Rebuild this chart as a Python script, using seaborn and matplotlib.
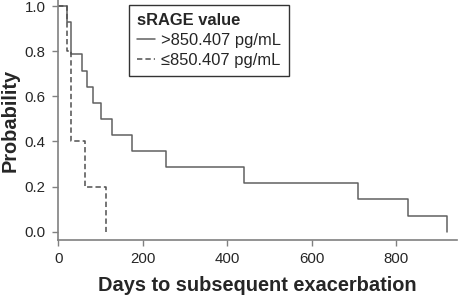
import matplotlib
matplotlib.use("Agg")
import matplotlib.pyplot as plt
import seaborn as sns
import pandas as pd

high_days = [0, 20, 29, 55, 69, 81, 100, 128, 175, 255, 440, 709, 829, 921]
high_prob = [1.0, 0.929, 0.786, 0.714, 0.643, 0.571, 0.5, 0.429, 0.357, 0.286, 0.214, 0.143, 0.071, 0.0]
low_days = [0, 20, 29, 64, 113]
low_prob = [1.0, 0.8, 0.4, 0.2, 0.0]
labels = [">850.407 pg/mL", "\u2264850.407 pg/mL"]
xticks = [0, 200, 400, 600, 800]
yticks = [0.0, 0.2, 0.4, 0.6, 0.8, 1.0]

sns.set_style("ticks")
plt.rcParams["font.family"] = ["Liberation Sans", "DejaVu Sans"]

df = pd.concat([
    pd.DataFrame({"day": high_days, "prob": high_prob, "grp": labels[0]}),
    pd.DataFrame({"day": low_days, "prob": low_prob, "grp": labels[1]}),
])

fig = plt.figure(figsize=(4.58, 2.96), dpi=100)
ax = fig.add_axes([0.1273, 0.189, 0.8697, 0.811])

sns.lineplot(data=df, x="day", y="prob", hue="grp", style="grp",
             palette=["#606060", "#505050"], dashes=[(None, None), (3.5, 2)],
             estimator=None, sort=False, drawstyle="steps-post",
             linewidth=1.1, ax=ax, legend=False)

ax.set_xlim(0, 943)
ax.set_ylim(-0.0368, 1.0266)
ax.set_xticks(xticks)
ax.set_yticks(yticks)
ax.set_xticklabels([str(t) for t in xticks])
ax.set_yticklabels([f"{t:.1f}" for t in yticks])
ax.tick_params(axis="both", labelsize=10.8, color="#808080", width=1)
ax.tick_params(axis="y", length=4.5, pad=4.8)
ax.tick_params(axis="x", length=4, pad=4.5)
for side in ["top", "right"]:
    ax.spines[side].set_visible(False)
for side in ["left", "bottom"]:
    ax.spines[side].set_color("#808080")
    ax.spines[side].set_linewidth(1.2)

ax.set_xlabel("Days to subsequent exacerbation", fontsize=14.4, fontweight="bold", labelpad=7)
ax.set_ylabel("Probability", fontsize=14.4, fontweight="bold", labelpad=3)

handles = ax.get_lines()[:2]
leg = ax.legend(handles, labels, title="sRAGE value", loc="upper left",
                bbox_to_anchor=(0.1775, 0.979), fontsize=11.9, title_fontsize=11.9,
                frameon=True, fancybox=False, handlelength=1.1, handletextpad=0.35,
                borderpad=0.5, labelspacing=0.3, alignment="left",
                borderaxespad=0)
leg.get_title().set_fontweight("bold")
leg.get_frame().set_edgecolor("black")
leg.get_frame().set_linewidth(1.0)

fig.savefig("out.png", dpi=100)
